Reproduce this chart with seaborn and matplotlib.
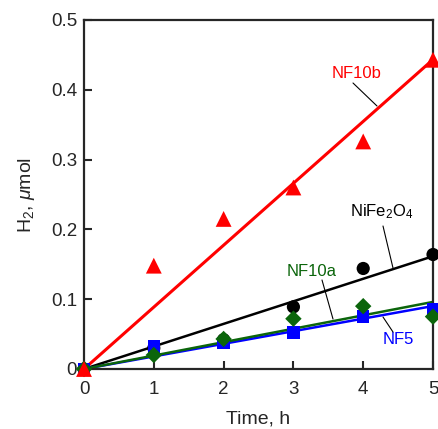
import numpy as np
import pandas as pd
import matplotlib
matplotlib.use("Agg")
import matplotlib.pyplot as plt
import seaborn as sns

# Hydrogen evolution over time for each catalyst
time_h = [0, 1, 2, 3, 4, 5]
nf10b = [0.0, 0.148, 0.215, 0.260, 0.326, 0.443]
nife2o4 = [0.0, 0.030, 0.042, 0.089, 0.144, 0.164]
nf10a = [0.0, 0.020, 0.043, 0.072, 0.090, 0.075]
nf5 = [0.0, 0.032, 0.037, 0.052, 0.075, 0.086]

# drawing order: later series sit on top
series = ["NiFe2O4", "NF5", "NF10a", "NF10b"]
values = {"NiFe2O4": nife2o4, "NF10b": nf10b, "NF10a": nf10a, "NF5": nf5}
colors = {"NiFe2O4": "black", "NF10b": "#ff0000", "NF10a": "#0b650b", "NF5": "#0000ff"}
markers = {"NiFe2O4": "o", "NF10b": "^", "NF10a": "D", "NF5": "s"}
msizes = {"NiFe2O4": 90, "NF10b": 130, "NF10a": 70, "NF5": 80}
lwidths = {"NiFe2O4": 1.8, "NF10b": 2.2, "NF10a": 1.8, "NF5": 1.8}

sns.set_style("ticks")
plt.rcParams["font.family"] = ["Liberation Sans", "DejaVu Sans"]
plt.rcParams["mathtext.fontset"] = "custom"
plt.rcParams["mathtext.rm"] = "Liberation Sans"
plt.rcParams["mathtext.it"] = "Liberation Sans:italic"

fig = plt.figure(figsize=(4.38, 4.29), dpi=100)
ax = fig.add_axes([0.1918, 0.1399, 0.7968, 0.8135])

x = np.array(time_h, dtype=float)
for name in series:
    y = np.array(values[name])
    # least-squares line through the origin
    slope = np.sum(x * y) / np.sum(x * x)
    fit = pd.DataFrame({"t": [0.0, 5.0], "h2": [0.0, 5.0 * slope]})
    sns.lineplot(data=fit, x="t", y="h2", color=colors[name],
                 linewidth=lwidths[name], ax=ax, zorder=2)

for name in series:
    df = pd.DataFrame({"t": time_h, "h2": values[name]})
    sns.scatterplot(data=df, x="t", y="h2", color=colors[name],
                    marker=markers[name], s=msizes[name], edgecolor="none",
                    linewidth=0, ax=ax, zorder=3, clip_on=False)

ax.set_xlim(0, 5)
ax.set_ylim(0, 0.5)
ax.set_xticks([0, 1, 2, 3, 4, 5])
ax.set_xticklabels(["0", "1", "2", "3", "4", "5"])
ax.set_yticks([0, 0.1, 0.2, 0.3, 0.4, 0.5])
ax.set_yticklabels(["0", "0.1", "0.2", "0.3", "0.4", "0.5"])
ax.tick_params(direction="in", length=6, width=1.5, labelsize=13.5,
               top=False, right=False)
ax.tick_params(axis="x", pad=9)
ax.tick_params(axis="y", pad=5)
for sp in ax.spines.values():
    sp.set_linewidth(1.6)
    sp.set_visible(True)

ax.set_xlabel("Time, h", fontsize=14, labelpad=9)
ax.set_ylabel(r"H$_2$, $\mathit{\mu}$mol", fontsize=14, labelpad=10)

# Series labels with leader lines
def label(text, color, txy, p0, p1):
    ax.annotate(text, xy=txy, xycoords="figure pixels", ha="center",
                va="center", color=color, fontsize=12)
    ax.annotate("", xy=p1, xytext=p0, xycoords="figure pixels",
                textcoords="figure pixels",
                arrowprops=dict(arrowstyle="-", color="black", lw=0.8,
                                shrinkA=0, shrinkB=0))

H = 429
label("NF10b", "#ff0000", (357, H - 74), (353, H - 83), (377, H - 106))
label(r"NiFe$_2$O$_4$", "black", (382, H - 212), (383, H - 226), (393, H - 268))
label("NF10a", "#0b650b", (312, H - 272), (322, H - 280), (333, H - 319))
label("NF5", "#0000ff", (398, H - 340), (383, H - 317), (393, H - 332))

fig.savefig("out.png", dpi=100)
